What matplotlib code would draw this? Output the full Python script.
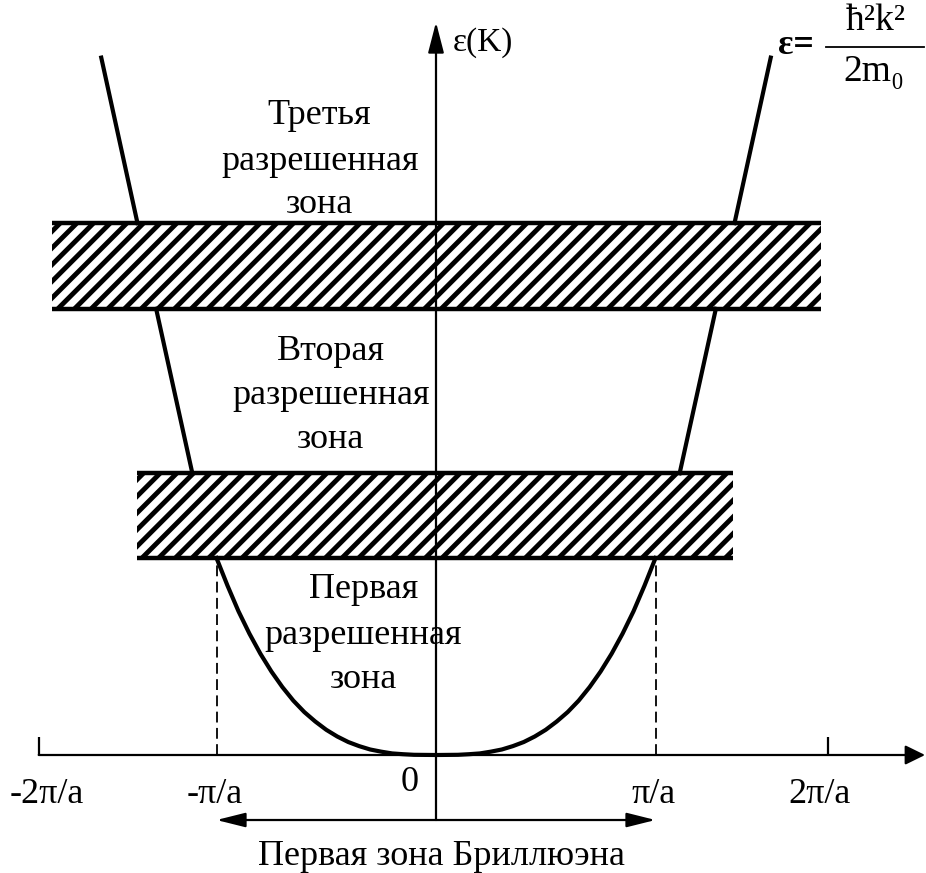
# -*- coding: utf-8 -*-
# Band diagram: energy e(k) of a nearly free electron with forbidden gaps
import numpy as np
import matplotlib.pyplot as plt
from matplotlib.patches import Rectangle

plt.rcParams['font.family'] = ['Liberation Serif', 'DejaVu Serif']
plt.rcParams['hatch.linewidth'] = 3.5

# ------------------------------------------------------
# data (k in units of pi/a, energy in units of the first gap edge)

# first allowed band, right half (left half is the mirror image)
k_band1 = [0.0, 0.1, 0.15, 0.2, 0.25, 0.3, 0.35, 0.4, 0.45, 0.5, 0.55, 0.6,
           0.65, 0.7, 0.75, 0.8, 0.85, 0.9, 0.95, 1.0]
e_band1 = [0.0, 0.001, 0.004, 0.008, 0.017, 0.028, 0.045, 0.066, 0.094, 0.128,
           0.17, 0.218, 0.276, 0.345, 0.424, 0.514, 0.616, 0.73, 0.86, 1.0]

# second and third allowed bands (straight pieces of the parabola)
k_band2 = [1.11, 1.275]
e_band2 = [1.43, 2.265]
k_band3 = [1.36, 1.525]
e_band3 = [2.70, 3.54]

# forbidden gaps
gap_bottom = [1.0, 2.265]
gap_top = [1.43, 2.70]
gap_left = [-1.36, -1.75]
gap_right = [1.355, 1.755]

# k axis: end ticks and labels
tick_k = [-1.81, 1.785]
label_k = [-1.775, -1.01, -0.118, 0.993, 1.745]
label_txt = ['-2\u03c0/a', '-\u03c0/a', '0', '\u03c0/a', '2\u03c0/a']

zone_names = [['Третья', 'разрешенная', 'зона'],
              ['Вторая', 'разрешенная', 'зона'],
              ['Первая', 'разрешенная', 'зона']]
zone_x = [-0.53, -0.48, -0.33]
zone_y = [[3.245, 3.015, 2.795], [2.046, 1.827, 1.599], [0.838, 0.609, 0.381]]

# ------------------------------------------------------
fig = plt.figure(figsize=(9.26, 8.73), dpi=100)
ax = fig.add_axes([0, 0, 1, 1])
ax.set_xlim(-436 / 219.5, 490 / 219.5)
ax.set_ylim(-118 / 197, 755 / 197)
ax.axis('off')

# hatched gaps with thick top and bottom borders
for eb, et, kl, kr in zip(gap_bottom, gap_top, gap_left, gap_right):
    r = Rectangle((kl, eb), kr - kl, et - eb, facecolor='white',
                  edgecolor='black', hatch='//', linewidth=0, zorder=1)
    ax.add_patch(r)
    ax.hlines([eb, et], kl, kr, colors='black', lw=3.2, zorder=3)

# allowed bands
k1 = np.array(k_band1)
e1 = np.array(e_band1)
kk = np.concatenate([-k1[::-1], k1[1:]])
ee = np.concatenate([e1[::-1], e1[1:]])
ax.plot(kk, ee, color='black', lw=3, solid_joinstyle='round', zorder=4)
for ks, es in [(k_band2, e_band2), (k_band3, e_band3)]:
    ax.plot(ks, es, color='black', lw=3, zorder=4)
    ax.plot([-k for k in ks], es, color='black', lw=3, zorder=4)

# zone boundaries
ax.vlines([-1, 1], 0, e_band1[-1], colors='black', lw=1.3,
          linestyles=(0, (6, 3)), zorder=2)

# axes with arrows
y_bz = -0.33
ax.annotate('', xy=(2.228, 0), xytext=(tick_k[0], 0),
            arrowprops=dict(arrowstyle='-|>,head_length=0.55,head_width=0.27',
                            lw=1.6, color='black', mutation_scale=22,
                            shrinkA=0, shrinkB=0), zorder=5)
ax.annotate('', xy=(0, 3.72), xytext=(0, y_bz),
            arrowprops=dict(arrowstyle='-|>,head_length=0.85,head_width=0.22',
                            lw=1.6, color='black', mutation_scale=22,
                            shrinkA=0, shrinkB=0), zorder=5)
ax.vlines(tick_k, 0, 0.09, colors='black', lw=1.6)

# first Brillouin zone
ax.annotate('', xy=(1.0, y_bz), xytext=(-1.0, y_bz),
            arrowprops=dict(arrowstyle='<|-|>,head_length=0.8,head_width=0.2',
                            lw=1.6, color='black', mutation_scale=22,
                            shrinkA=0, shrinkB=0), zorder=5)

fs = 26
for x, t in zip(label_k, label_txt):
    y = -0.142 if t == '0' else -0.203
    ax.text(x, y, t, fontsize=fs, ha='center', va='center')
ax.text(0.027, -0.515, 'Первая зона Бриллюэна', fontsize=fs,
        ha='center', va='center')

for names, x, ys in zip(zone_names, zone_x, zone_y):
    for name, y in zip(names, ys):
        ax.text(x, y, name, fontsize=fs, ha='center', va='center', zorder=6)

# axis label and dispersion law
ax.text(0.075, 3.614, '\u03b5(K)', fontsize=24, ha='left', va='center')
ax.text(1.56, 3.604, '\u03b5=', fontsize=fs, ha='left', va='center',
        fontweight='bold')
ax.text(2.005, 3.725, '\u0127\u00b2k\u00b2', fontsize=27, ha='center', va='center')
ax.plot([1.777, 2.223], [3.594, 3.594], color='black', lw=1.3)
ax.text(1.995, 3.467, '2m\u2080', fontsize=27, ha='center', va='center')

fig.savefig('out.png', dpi=100)
